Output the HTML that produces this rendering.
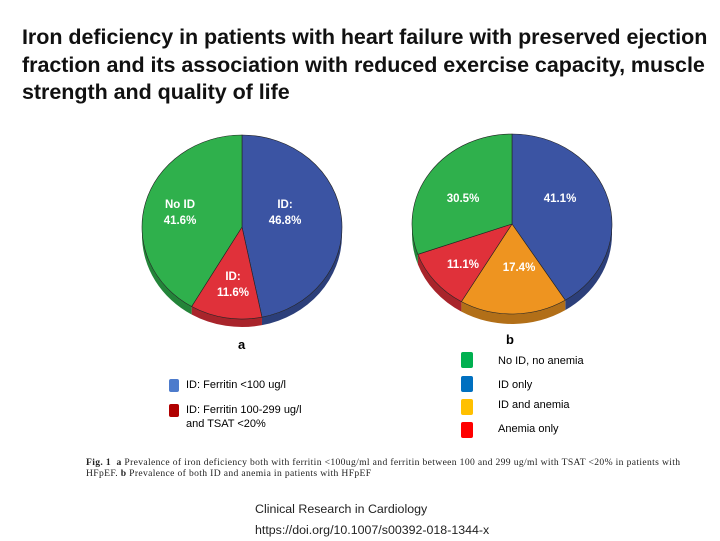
<!DOCTYPE html>
<html><head><meta charset="utf-8"><style>
body{margin:0;width:720px;height:540px;background:#fff;font-family:"Liberation Sans",sans-serif;overflow:hidden;position:relative}
.t{position:absolute;left:22px;top:24px;font-weight:bold;font-size:21.5px;line-height:27.5px;color:#111;letter-spacing:-0.04px;white-space:nowrap}
.abs{position:absolute;white-space:nowrap}
.sw{position:absolute;width:10px;height:13px;border-radius:2px}
</style></head><body>
<div class="t">Iron deficiency in patients with heart failure with preserved ejection<br>fraction and its association with reduced exercise capacity, muscle<br>strength and quality of life</div>
<svg width="720" height="540" style="position:absolute;left:0;top:0" id="svg"></svg>
<div class="abs" style="left:238px;top:337px;font-size:13px;font-weight:bold">a</div>
<div class="abs" style="left:506px;top:332px;font-size:13px;font-weight:bold">b</div>
<div class="sw" style="left:169px;top:379px;background:#4d7bcc"></div>
<div class="abs" style="left:186px;top:379px;font-size:11px">ID: Ferritin &lt;100 ug/l</div>
<div class="sw" style="left:169px;top:404px;background:#b00000"></div>
<div class="abs" style="left:186px;top:403px;font-size:11px;line-height:14px">ID: Ferritin 100-299 ug/l<br>and TSAT &lt;20%</div>
<div class="sw" style="left:461px;top:352px;width:12px;height:16px;background:#00b050"></div>
<div class="abs" style="left:498px;top:355px;font-size:11px">No ID, no anemia</div>
<div class="sw" style="left:461px;top:376px;width:12px;height:16px;background:#0070c0"></div>
<div class="abs" style="left:498px;top:379px;font-size:11px">ID only</div>
<div class="sw" style="left:461px;top:399px;width:12px;height:16px;background:#ffc000"></div>
<div class="abs" style="left:498px;top:399px;font-size:11px">ID and anemia</div>
<div class="sw" style="left:461px;top:422px;width:12px;height:16px;background:#ff0000"></div>
<div class="abs" style="left:498px;top:423px;font-size:11px">Anemia only</div>
<div class="abs" style="left:86px;top:457px;font-size:9.6px;font-family:'Liberation Serif',serif;line-height:11px;color:#222;letter-spacing:0.35px"><b>Fig. 1</b> &nbsp;<b>a</b> Prevalence of iron deficiency both with ferritin &lt;100ug/ml and ferritin between 100 and 299 ug/ml with TSAT &lt;20% in patients with<br>HFpEF. <b>b</b> Prevalence of both ID and anemia in patients with HFpEF</div>
<div class="abs" style="left:255px;top:499px;font-size:12.4px;line-height:21px;color:#222">Clinical Research in Cardiology<br>https://doi.org/10.1007/s00392-018-1344-x</div>
<script>
const catsA=["ID: 46.8%","ID: 11.6%","No ID 41.6%"];
const valsA=[46.8,11.6,41.6];
const colsA=["#3b54a3","#e0313a","#2fb04c"];
const catsB=["41.1%","17.4%","11.1%","30.5%"];
const valsB=[41.1,17.4,11.1,30.5];
const colsB=["#3b54a3","#ee9420","#e0313a","#2fb04c"];
const labelPosA=[[285,212],[233,284],[180,212]];
const labelPosB=[[560,198],[519,267],[463,264],[463,198]];
const NS="http://www.w3.org/2000/svg";
const svg=document.getElementById('svg');
function dark(c){const n=parseInt(c.slice(1),16);let r=(n>>16)*0.75|0,g=((n>>8)&255)*0.75|0,b=(n&255)*0.75|0;return `rgb(${r},${g},${b})`;}
function pie(cx,cy,rx,ry,depth,vals,cols,cats,lpos,name){
  const tot=vals.reduce((a,b)=>a+b,0);
  const pt=(a,dy)=>[cx+rx*Math.sin(a),cy-ry*Math.cos(a)+dy];
  let a0=0;const segs=[];
  vals.forEach((v,i)=>{const a1=a0+v/tot*2*Math.PI;segs.push([a0,a1]);a0=a1;});
  segs.forEach(([s,e],i)=>{
    const lo=Math.max(s,Math.PI/2),hi=Math.min(e,3*Math.PI/2);
    if(hi>lo){const p0=pt(lo,0),p1=pt(hi,0);
      const p=document.createElementNS(NS,'path');
      p.setAttribute('d',`M${p0} A${rx},${ry} 0 0 1 ${p1} L${p1[0]},${p1[1]+depth} A${rx},${ry} 0 0 0 ${p0[0]},${p0[1]+depth}Z`);
      p.setAttribute('fill',dark(cols[i]));
      
      
      svg.appendChild(p);}
  });
  segs.forEach(([s,e],i)=>{
    const p0=pt(s,0),p1=pt(e,0);const large=(e-s)>Math.PI?1:0;
    const p=document.createElementNS(NS,'path');
    p.setAttribute('d',`M${cx},${cy} L${p0} A${rx},${ry} 0 ${large} 1 ${p1}Z`);
    p.setAttribute('fill',cols[i]);p.setAttribute('stroke','#222');p.setAttribute('stroke-width','0.6');
    
    
    svg.appendChild(p);
    const lp=lpos[i];
    const words=cats[i].split(' ');const lines=words.length>1?[words.slice(0,-1).join(' '),words[words.length-1]]:[cats[i]];
    lines.forEach((ln,j)=>{
      const t=document.createElementNS(NS,'text');
      t.setAttribute('x',lp[0]);t.setAttribute('y',lp[1]+j*16-(lines.length-1)*8+4);
      t.setAttribute('text-anchor','middle');t.setAttribute('fill','#fff');t.setAttribute('font-weight','bold');t.setAttribute('font-size','11.5');
      t.setAttribute('font-family','Liberation Sans, sans-serif');
      t.textContent=ln;
      
      
      svg.appendChild(t);});
  });
}
pie(242,227,100,92,8,valsA,colsA,catsA,labelPosA,'pie-a');
pie(512,224,100,90,10,valsB,colsB,catsB,labelPosB,'pie-b');
</script>
</body></html>
